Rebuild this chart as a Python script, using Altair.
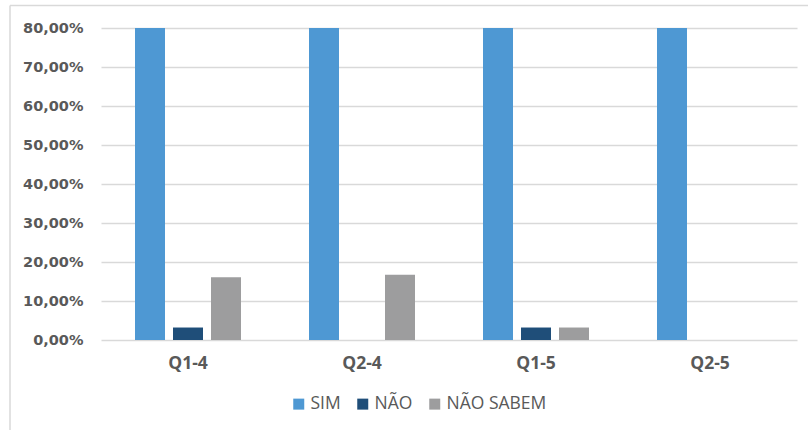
import altair as alt
import pandas as pd

categories = ["Q1-4", "Q2-4", "Q1-5", "Q2-5"]
series = ["SIM", "NÃO", "NÃO SABEM"]
sim = [0.806, 0.833, 0.935, 1.0]
nao = [0.032, 0.0, 0.032, 0.0]
nao_sabem = [0.161, 0.167, 0.032, 0.0]
colors = ["#4E98D3", "#1F4E79", "#9D9D9E"]
y_ticks = [0, 0.1, 0.2, 0.3, 0.4, 0.5, 0.6, 0.7, 0.8]

rows = []
for i, c in enumerate(categories):
    for s, vals in zip(series, [sim, nao, nao_sabem]):
        rows.append({"cat": c, "serie": s, "val": vals[i]})
df = pd.DataFrame(rows)

grid = "#D9D9D9"
lab = "#595959"

bars = alt.Chart(df).mark_bar(clip=True).encode(
    x=alt.X("cat:N", sort=categories, title=None,
            scale=alt.Scale(paddingInner=0, paddingOuter=0),
            axis=alt.Axis(labelAngle=0, ticks=False, domain=False, grid=False,
                          labelFont="Open Sans", labelFontWeight="bold",
                          labelFontSize=17.5, labelColor=lab, labelPadding=14)),
    xOffset=alt.XOffset("serie:N", sort=series,
                        scale=alt.Scale(paddingInner=0.2105, paddingOuter=0.895)),
    y=alt.Y("val:Q", title=None,
            scale=alt.Scale(domain=[0, 0.8], nice=False),
            axis=alt.Axis(values=y_ticks, domain=False, ticks=False, tickSize=0,
                          labelExpr="replace(format(datum.value, '.2%'), '.', ',')",
                          labelFont="DejaVu Sans", labelFontWeight="bold",
                          labelFontSize=14.5, labelColor=lab, labelPadding=18,
                          grid=True, gridColor=grid, gridWidth=1.5)),
    color=alt.Color("serie:N", sort=series,
                    scale=alt.Scale(domain=series, range=colors),
                    legend=alt.Legend(title=None, orient="none", direction="horizontal",
                                      legendX=189, legendY=367,
                                      symbolType="square", symbolSize=121,
                                      symbolStrokeWidth=0, symbolOpacity=1,
                                      labelFont="Open Sans", labelFontSize=17.5,
                                      labelColor=lab, labelOffset=3,
                                      columnPadding=13, padding=0)),
)

frame_df = pd.DataFrame({"a": [0]})
top_line = alt.Chart(frame_df).mark_rule(color=grid, strokeWidth=1.5).encode(
    x=alt.value(-91), x2=alt.value(720), y=alt.value(-22.5))
left_line = alt.Chart(frame_df).mark_rule(color=grid, strokeWidth=1.5).encode(
    x=alt.value(-91), y=alt.value(-22.5), y2=alt.value(410))

chart = alt.layer(top_line, left_line, bars).properties(
    width=696, height=312,
    autosize=alt.AutoSizeParams(type="none"),
    padding={"left": 101, "top": 28, "right": 11, "bottom": 90},
    background="white",
).configure_view(stroke=None)

chart.save("out.html", embed_options={"renderer": "svg", "actions": False})
